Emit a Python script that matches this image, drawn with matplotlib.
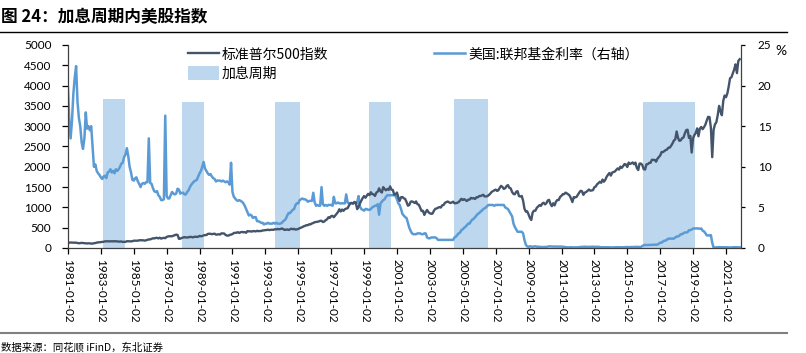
import pandas as pd
import matplotlib
matplotlib.use("Agg")
import matplotlib.pyplot as plt
import matplotlib.dates as mdates
from matplotlib.lines import Line2D

# monthly data, 1981-01 .. 2021-11
spx = [
    129.6, 131.3, 136.0, 132.8, 132.6, 131.2, 130.9, 122.8, 116.2, 121.9, 126.4, 122.6,  # 1981
    120.4, 113.1, 112.0, 116.4, 111.9, 109.6, 107.1, 119.5, 120.4, 133.7, 138.5, 140.6,  # 1982
    145.3, 148.1, 153.0, 164.4, 162.4, 168.1, 162.6, 164.4, 166.1, 163.6, 166.4, 164.9,  # 1983
    163.4, 157.1, 159.2, 160.1, 150.6, 153.2, 150.7, 166.7, 166.1, 166.1, 163.6, 167.2,  # 1984
    179.6, 181.2, 180.7, 179.8, 189.6, 191.9, 190.9, 188.6, 182.1, 189.8, 202.2, 211.3,  # 1985
    211.8, 226.9, 238.9, 235.5, 247.4, 250.8, 236.1, 252.9, 231.3, 244.0, 249.2, 242.2,  # 1986
    274.1, 284.2, 291.7, 288.4, 290.1, 304.0, 318.7, 329.8, 321.8, 225.0, 230.3, 247.1,  # 1987
    257.1, 267.8, 258.9, 261.3, 262.2, 273.5, 272.0, 261.5, 271.9, 279.0, 273.7, 277.7,  # 1988
    297.5, 288.9, 294.9, 309.6, 320.5, 318.0, 346.1, 351.5, 349.2, 340.4, 346.0, 353.4,  # 1989
    329.1, 331.9, 339.9, 330.8, 361.2, 358.0, 356.2, 322.6, 306.1, 304.0, 322.2, 330.2,  # 1990
    343.9, 367.1, 375.2, 375.3, 389.8, 371.2, 387.8, 395.4, 387.9, 392.5, 375.2, 417.1,  # 1991
    408.8, 412.7, 403.7, 415.0, 415.4, 408.1, 424.2, 414.0, 417.8, 418.7, 431.4, 435.7,  # 1992
    438.8, 443.4, 451.7, 440.2, 450.2, 450.5, 448.1, 463.6, 458.9, 467.8, 461.8, 466.5,  # 1993
    481.6, 467.1, 445.8, 450.9, 456.5, 444.3, 458.3, 475.5, 462.7, 472.4, 453.7, 459.3,  # 1994
    470.4, 487.4, 500.7, 514.7, 533.4, 544.8, 562.1, 561.9, 584.4, 581.5, 605.4, 615.9,  # 1995
    636.0, 640.4, 645.5, 654.2, 669.1, 670.6, 640.0, 652.0, 687.3, 705.3, 757.0, 740.7,  # 1996
    786.2, 790.8, 757.1, 801.3, 848.3, 885.1, 954.3, 899.5, 947.3, 914.6, 955.4, 970.4,  # 1997
    980.3, 1049.3, 1101.8, 1111.8, 1090.8, 1133.8, 1120.7, 957.3, 1017.0, 1098.7, 1163.6, 1229.2,  # 1998
    1279.6, 1238.3, 1286.4, 1335.2, 1301.8, 1372.7, 1328.7, 1320.4, 1282.7, 1362.9, 1388.9, 1469.3,  # 1999
    1394.5, 1366.4, 1498.6, 1452.4, 1420.6, 1454.6, 1430.8, 1517.7, 1436.5, 1429.4, 1315.0, 1320.3,  # 2000
    1366.0, 1239.9, 1160.3, 1249.5, 1255.8, 1224.4, 1211.2, 1133.6, 1040.9, 1059.8, 1139.5, 1148.1,  # 2001
    1130.2, 1106.7, 1147.4, 1076.9, 1067.1, 989.8, 911.6, 916.1, 815.3, 885.8, 936.3, 879.8,  # 2002
    855.7, 841.2, 848.2, 916.9, 963.6, 974.5, 990.3, 1008.0, 996.0, 1050.7, 1058.2, 1111.9,  # 2003
    1131.1, 1144.9, 1126.2, 1107.3, 1120.7, 1140.8, 1101.7, 1104.2, 1114.6, 1130.2, 1173.8, 1211.9,  # 2004
    1181.3, 1203.6, 1180.6, 1156.9, 1191.5, 1191.3, 1234.2, 1220.3, 1228.8, 1207.0, 1249.5, 1248.3,  # 2005
    1280.1, 1280.7, 1294.9, 1310.6, 1270.1, 1270.2, 1276.7, 1303.8, 1335.9, 1377.9, 1400.6, 1418.3,  # 2006
    1438.2, 1406.8, 1420.9, 1482.4, 1530.6, 1503.4, 1455.3, 1474.0, 1526.8, 1549.4, 1481.1, 1468.4,  # 2007
    1378.6, 1330.6, 1322.7, 1385.6, 1400.4, 1280.0, 1267.4, 1282.8, 1166.4, 968.8, 896.2, 903.3,  # 2008
    825.9, 735.1, 690.0, 872.8, 919.1, 919.3, 987.5, 1020.6, 1057.1, 1036.2, 1095.6, 1115.1,  # 2009
    1073.9, 1104.5, 1169.4, 1186.7, 1089.4, 1030.7, 1101.6, 1049.3, 1141.2, 1183.3, 1180.6, 1257.6,  # 2010
    1286.1, 1327.2, 1325.8, 1363.6, 1345.2, 1320.6, 1292.3, 1218.9, 1131.4, 1253.3, 1247.0, 1257.6,  # 2011
    1312.4, 1365.7, 1408.5, 1397.9, 1310.3, 1362.2, 1379.3, 1406.6, 1440.7, 1412.2, 1416.2, 1426.2,  # 2012
    1498.1, 1514.7, 1569.2, 1597.6, 1630.7, 1606.3, 1685.7, 1633.0, 1681.6, 1756.5, 1805.8, 1848.4,  # 2013
    1782.6, 1859.5, 1872.3, 1884.0, 1923.6, 1960.2, 1930.7, 2003.4, 1972.3, 2018.1, 2067.6, 2058.9,  # 2014
    1995.0, 2104.5, 2067.9, 2085.5, 2107.4, 2063.1, 2103.8, 1972.2, 1920.0, 2079.4, 2080.4, 2043.9,  # 2015
    1940.2, 1932.2, 2059.7, 2065.3, 2097.0, 2098.9, 2173.6, 2171.0, 2168.3, 2126.2, 2198.8, 2238.8,  # 2016
    2278.9, 2363.6, 2362.7, 2384.2, 2411.8, 2423.4, 2470.3, 2471.7, 2519.4, 2575.3, 2647.6, 2673.6,  # 2017
    2870.0, 2713.8, 2640.9, 2648.1, 2705.3, 2718.4, 2816.3, 2901.5, 2914.0, 2711.7, 2760.2, 2351.0,  # 2018
    2704.1, 2784.5, 2834.4, 2945.8, 2752.1, 2941.8, 2980.4, 2926.5, 2976.7, 3037.6, 3141.0, 3230.8,  # 2019
    3225.5, 2954.2, 2237.0, 2912.4, 3044.3, 3100.3, 3271.1, 3500.3, 3363.0, 3270.0, 3621.6, 3756.1,  # 2020
    3714.2, 3811.2, 3972.9, 4181.2, 4204.1, 4297.5, 4395.3, 4522.7, 4307.5, 4605.4, 4650.0,  # 2021
]

fed_rate = [
    19.8, 15.5, 13.5, 15.7, 19.0, 21.0, 22.4, 18.0, 16.0, 15.0, 13.0, 12.2,  # 1981
    13.5, 16.7, 14.7, 15.0, 14.5, 15.0, 12.5, 10.0, 10.3, 9.5, 9.2, 9.0,  # 1982
    8.7, 8.5, 8.8, 8.9, 8.6, 9.3, 9.4, 9.7, 9.3, 9.5, 9.2, 9.7,  # 1983
    9.5, 9.7, 10.0, 10.4, 10.5, 11.2, 11.5, 12.3, 11.3, 10.0, 9.3, 8.4,  # 1984
    8.3, 8.6, 8.7, 8.2, 7.9, 7.5, 7.9, 8.0, 7.9, 8.1, 8.1, 13.5,  # 1985
    8.0, 7.9, 7.4, 7.0, 6.9, 7.0, 6.5, 6.3, 5.9, 5.9, 6.0, 16.3,  # 1986
    6.4, 6.1, 6.1, 6.5, 6.9, 6.7, 6.6, 6.7, 7.3, 7.2, 6.7, 6.8,  # 1987
    6.8, 6.6, 6.6, 6.9, 7.1, 7.5, 7.8, 8.0, 8.2, 8.3, 8.4, 8.8,  # 1988
    9.2, 9.5, 10.0, 10.6, 9.8, 9.5, 9.2, 9.0, 9.1, 8.8, 8.6, 8.5,  # 1989
    8.2, 8.3, 8.3, 8.3, 8.2, 8.3, 8.2, 8.1, 8.2, 8.1, 7.8, 10.5,  # 1990
    6.9, 6.3, 6.1, 5.9, 5.8, 5.9, 5.8, 5.7, 5.5, 5.2, 4.8, 4.4,  # 1991
    4.0, 4.1, 4.0, 3.7, 3.8, 3.8, 3.3, 3.3, 3.2, 3.1, 3.1, 2.9,  # 1992
    3.0, 3.0, 3.1, 3.0, 3.0, 3.0, 3.1, 3.0, 3.1, 3.0, 3.0, 3.0,  # 1993
    3.1, 3.3, 3.4, 3.6, 4.0, 4.3, 4.3, 4.5, 4.7, 4.8, 5.3, 5.5,  # 1994
    5.5, 5.9, 6.0, 6.1, 6.0, 6.0, 5.9, 5.7, 5.8, 5.8, 5.8, 6.8,  # 1995
    5.6, 5.2, 5.3, 5.2, 5.2, 7.5, 5.4, 5.2, 5.3, 5.2, 5.3, 5.3,  # 1996
    5.3, 5.2, 6.3, 5.5, 5.5, 5.6, 5.5, 5.5, 5.5, 5.5, 5.5, 6.6,  # 1997
    5.6, 5.5, 5.5, 5.5, 5.5, 5.6, 5.5, 5.6, 6.4, 5.1, 4.8, 4.7,  # 1998
    4.6, 4.8, 4.8, 4.7, 4.7, 4.8, 5.0, 5.1, 5.2, 5.2, 5.4, 4.1,  # 1999
    5.5, 5.7, 5.9, 6.0, 6.3, 6.5, 6.5, 6.5, 6.5, 6.5, 6.5, 6.4,  # 2000
    6.0, 5.5, 5.3, 4.8, 4.2, 4.0, 3.8, 3.7, 3.1, 2.5, 2.1, 1.8,  # 2001
    1.7, 1.7, 1.7, 1.8, 1.8, 1.8, 1.7, 1.7, 1.8, 1.8, 1.3, 1.2,  # 2002
    1.2, 1.3, 1.3, 1.3, 1.3, 1.2, 1.0, 1.0, 1.0, 1.0, 1.0, 1.0,  # 2003
    1.0, 1.0, 1.0, 1.0, 1.0, 1.0, 1.3, 1.4, 1.6, 1.8, 1.9, 2.2,  # 2004
    2.3, 2.5, 2.6, 2.8, 3.0, 3.0, 3.3, 3.5, 3.6, 3.8, 4.0, 4.2,  # 2005
    4.3, 4.5, 4.6, 4.8, 4.9, 5.0, 5.2, 5.3, 5.3, 5.3, 5.3, 5.2,  # 2006
    5.3, 5.3, 5.3, 5.3, 5.3, 5.3, 5.3, 5.0, 4.9, 4.8, 4.5, 4.2,  # 2007
    3.9, 3.0, 2.6, 2.3, 2.0, 2.0, 2.0, 2.0, 1.8, 1.0, 0.4, 0.2,  # 2008
    0.15, 0.22, 0.18, 0.15, 0.18, 0.21, 0.16, 0.16, 0.15, 0.12, 0.12, 0.12,  # 2009
    0.11, 0.13, 0.16, 0.20, 0.20, 0.18, 0.18, 0.19, 0.19, 0.19, 0.19, 0.18,  # 2010
    0.17, 0.16, 0.14, 0.10, 0.09, 0.09, 0.07, 0.10, 0.08, 0.07, 0.08, 0.07,  # 2011
    0.08, 0.10, 0.13, 0.14, 0.16, 0.16, 0.16, 0.13, 0.14, 0.16, 0.16, 0.16,  # 2012
    0.14, 0.15, 0.14, 0.15, 0.11, 0.09, 0.09, 0.08, 0.08, 0.09, 0.08, 0.09,  # 2013
    0.07, 0.07, 0.08, 0.09, 0.09, 0.10, 0.09, 0.09, 0.09, 0.09, 0.09, 0.12,  # 2014
    0.11, 0.11, 0.11, 0.12, 0.12, 0.13, 0.13, 0.14, 0.14, 0.12, 0.12, 0.24,  # 2015
    0.34, 0.38, 0.36, 0.37, 0.37, 0.38, 0.39, 0.40, 0.40, 0.40, 0.41, 0.54,  # 2016
    0.65, 0.66, 0.79, 0.90, 0.91, 1.04, 1.15, 1.16, 1.15, 1.15, 1.16, 1.30,  # 2017
    1.41, 1.42, 1.51, 1.69, 1.70, 1.82, 1.91, 1.91, 1.95, 2.19, 2.20, 2.27,  # 2018
    2.40, 2.40, 2.41, 2.42, 2.39, 2.38, 2.40, 2.13, 2.04, 1.83, 1.55, 1.55,  # 2019
    1.55, 1.58, 0.65, 0.05, 0.05, 0.08, 0.09, 0.10, 0.09, 0.09, 0.09, 0.09,  # 2020
    0.09, 0.08, 0.07, 0.07, 0.06, 0.08, 0.10, 0.09, 0.08, 0.08, 0.08,  # 2021
]

# rate hike periods (shaded), height on right axis
hike_start = ["1983-02-23", "1987-12-13", "1993-07-27", "1999-04-16", "2004-07-01", "2015-12-13"]
hike_end = ["1984-06-19", "1989-04-01", "1995-02-10", "2000-09-01", "2006-07-12", "2019-02-17"]
hike_height = [18.3, 18.0, 18.0, 18.0, 18.3, 18.0]

tick_years = list(range(1981, 2022, 2))

dates = pd.date_range("1981-01-01", periods=len(spx), freq="MS")

plt.rcParams["font.family"] = ["Lato", "Noto Sans CJK SC", "DejaVu Sans"]

fig = plt.figure(figsize=(8.06, 3.53), dpi=100)
W, H = 806, 353
ax = fig.add_axes([68 / W, 1 - 248 / H, (741 - 68) / W, (248 - 45) / H])
ax2 = ax.twinx()
ax.set_zorder(ax2.get_zorder() + 1)
ax.patch.set_visible(False)

starts = mdates.date2num(pd.to_datetime(hike_start))
ends = mdates.date2num(pd.to_datetime(hike_end))
bars = ax2.bar(starts, hike_height, width=ends - starts, align="edge",
               color="#BDD7EE", linewidth=0, label="加息周期")
l_rate, = ax2.plot(dates, fed_rate, color="#5B9BD5", lw=1.8,
                   label="美国:联邦基金利率（右轴）")
l_spx, = ax.plot(dates, spx, color="#44546A", lw=1.7, label="标准普尔500指数")

ax.set_ylim(0, 5000)
ax.set_yticks(range(0, 5001, 500))
ax2.set_ylim(0, 25)
ax2.set_yticks(range(0, 26, 5))
ax.set_xlim(pd.Timestamp("1981-01-02"), pd.Timestamp("2021-11-30"))

ticks = [pd.Timestamp(f"{y}-01-02") for y in tick_years]
ax.set_xticks(ticks)
ax.set_xticklabels([t.strftime("%Y-%m-%d") for t in ticks], rotation=-90)

for a in (ax, ax2):
    a.spines["top"].set_visible(False)
    for s in ("left", "right", "bottom"):
        a.spines[s].set_color("#404040")
        a.spines[s].set_linewidth(0.9)
ax.spines["right"].set_visible(False)
ax2.spines["left"].set_visible(False)
ax2.spines["bottom"].set_visible(False)

ax.tick_params(axis="y", direction="out", length=4, width=0.9, pad=8, labelsize=8.5)
ax.tick_params(axis="x", direction="out", length=4, width=0.9, pad=4, labelsize=8.5)
ax2.tick_params(axis="y", direction="out", length=3, width=0.9, pad=9, labelsize=8.5)

leg = ax.legend([l_spx, bars, l_rate], [l_spx.get_label(), "加息周期", l_rate.get_label()],
                ncol=2, loc="upper left", bbox_to_anchor=(188 / W, 1 - 47 / H),
                bbox_transform=fig.transFigure, frameon=False,
                prop={"family": "Noto Sans CJK SC", "size": 10},
                handlelength=2.25, handleheight=1.15, handletextpad=0.2,
                columnspacing=7.6, labelspacing=0.3, borderpad=0, borderaxespad=0)

fig.text(775 / W, 1 - 51 / H, "%", fontsize=10, va="center", ha="left")

fig.text(1 / W, 1 - 17 / H, "图 24：加息周期内美股指数", fontsize=12, fontweight="bold",
         family=["Noto Sans CJK SC", "DejaVu Sans"], va="center", ha="left")
fig.text(1 / W, 1 - 347 / H, "数据来源：同花顺 iFinD，东北证券", fontsize=7.5,
         family=["Noto Sans CJK SC", "DejaVu Sans"], va="center", ha="left")

fig.add_artist(Line2D([0, 787 / W], [1 - 31.5 / H] * 2, color="black", lw=1.0))
fig.add_artist(Line2D([0, 787 / W], [1 - 333 / H] * 2, color="#808080", lw=1.5))

fig.savefig("out.png", dpi=100)
